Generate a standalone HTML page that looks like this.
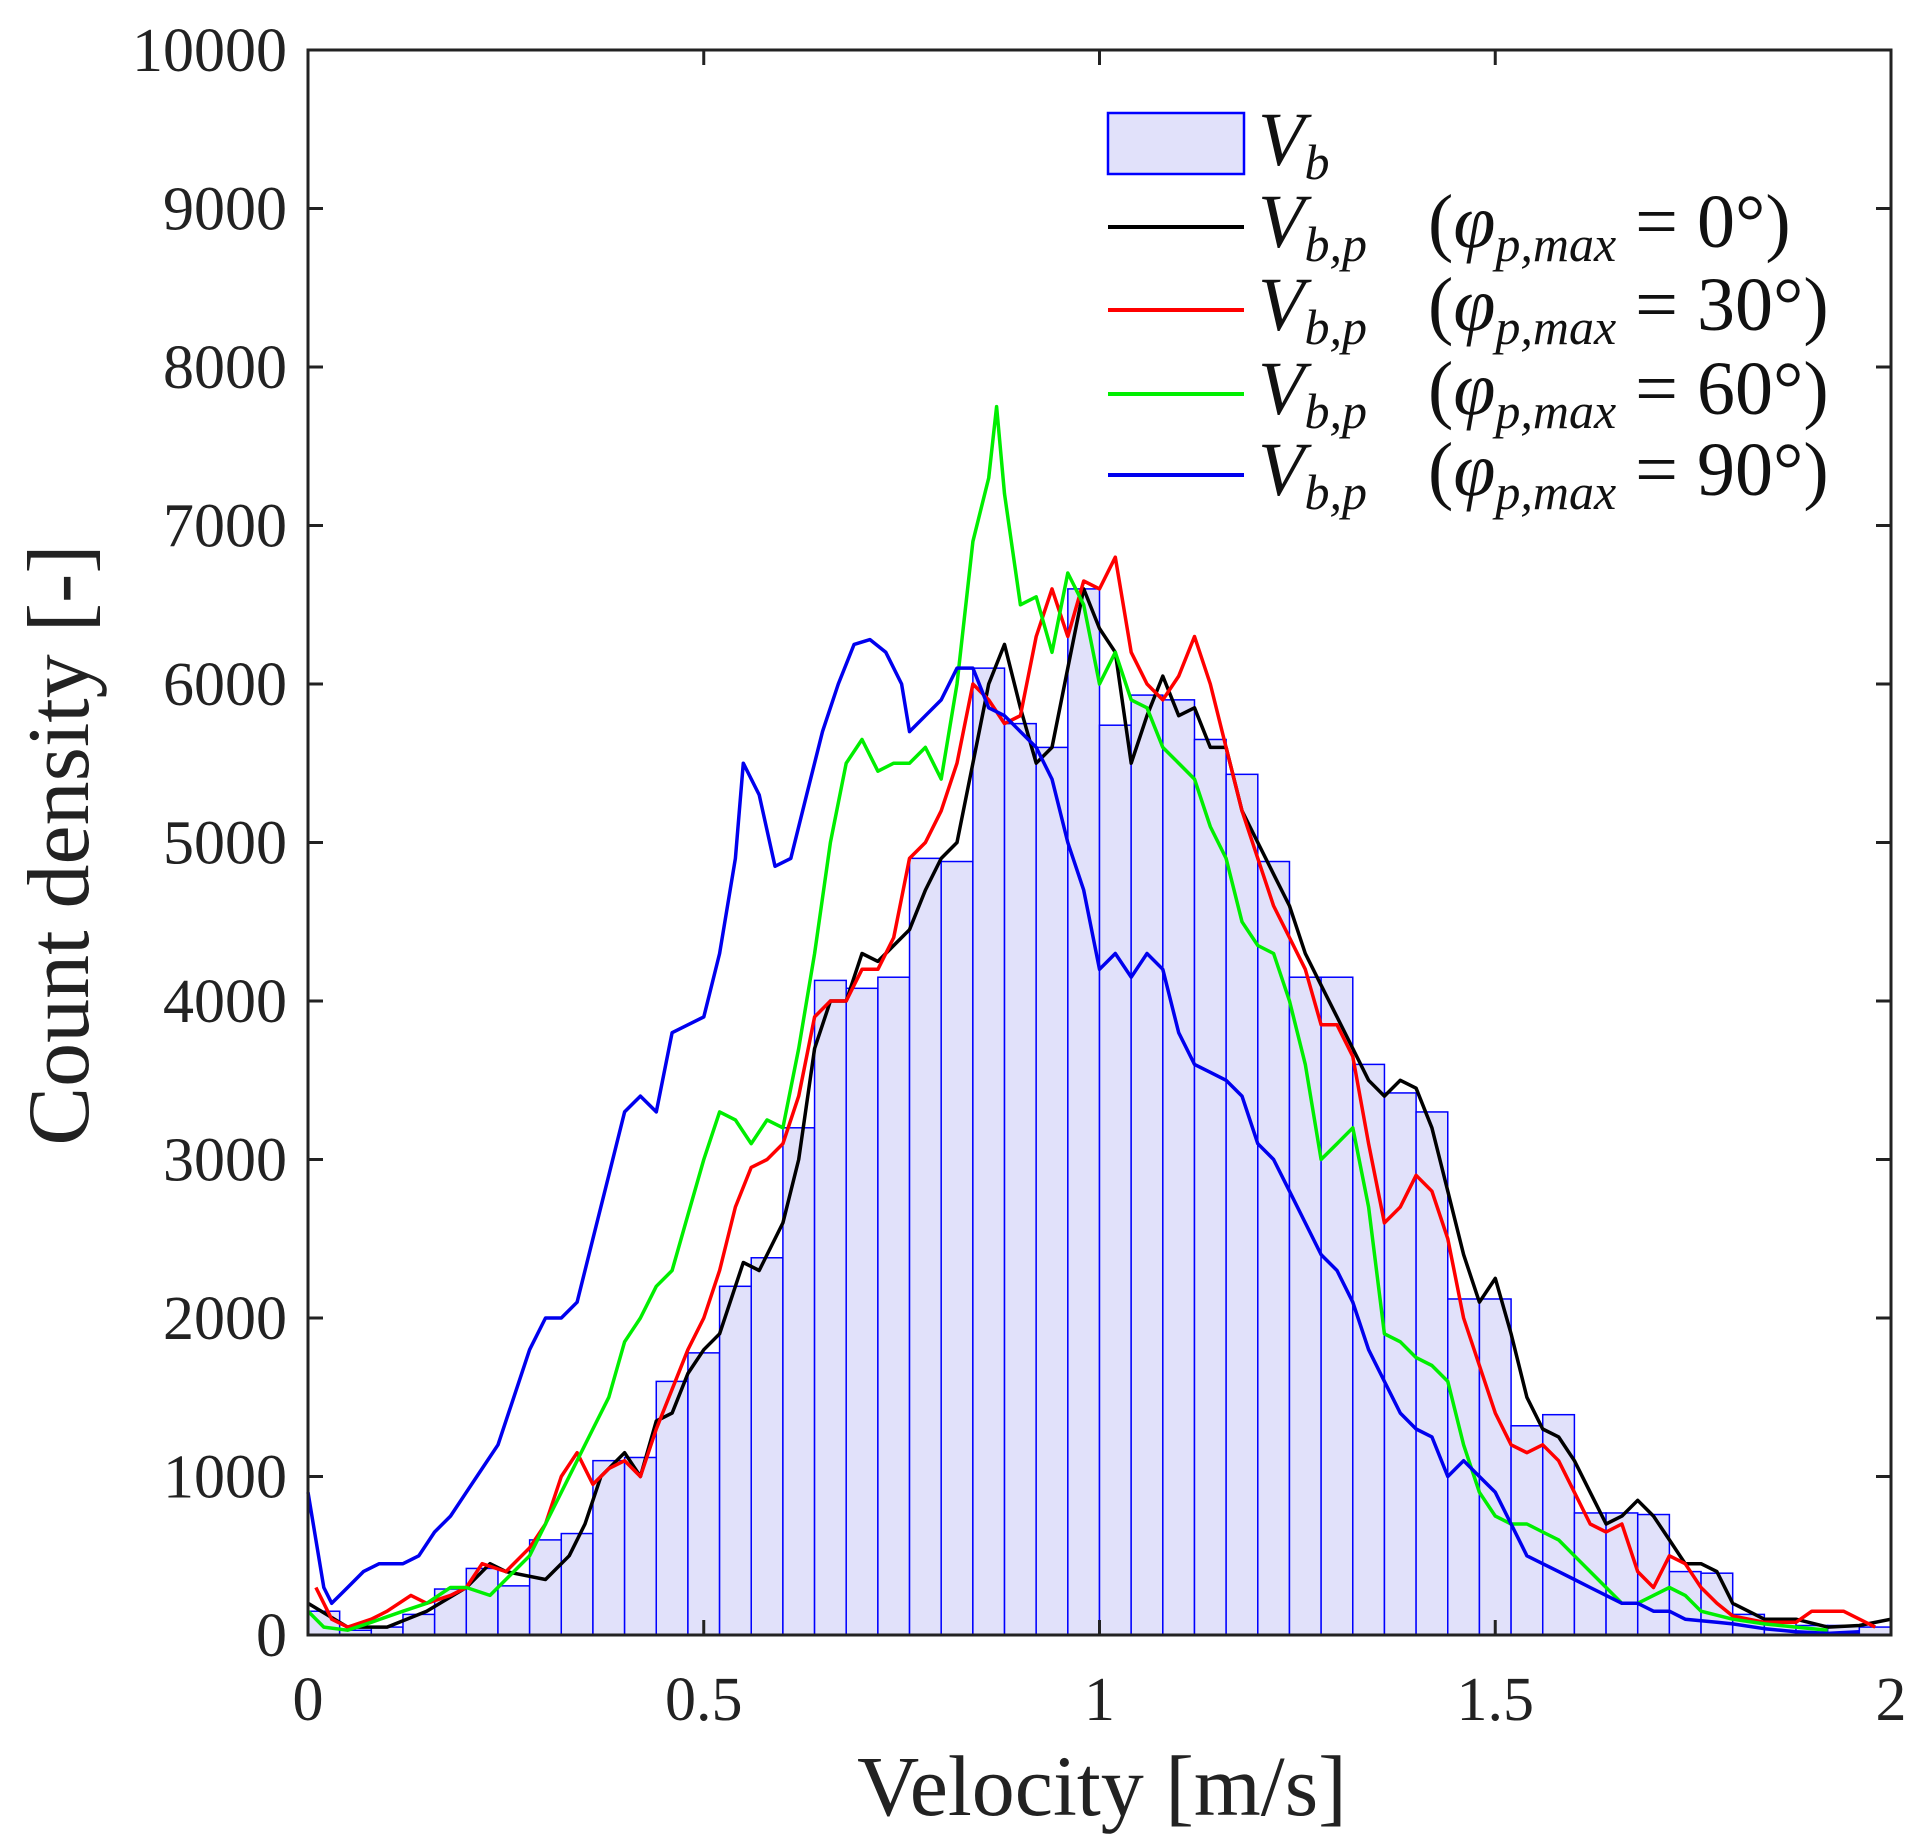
<!DOCTYPE html>
<html><head><meta charset="utf-8"><style>
html,body{margin:0;padding:0;background:#fff;}
svg{display:block;font-family:"Liberation Serif",serif;}
</style></head><body>
<svg id="chart" width="1925" height="1847" viewBox="0 0 1925 1847" xmlns="http://www.w3.org/2000/svg">
<g id="bars"></g>
<g id="lines"></g>
<g id="axes"></g>
<g id="legend"></g>
</svg>
<script>
const binEdgesStart = 0, binWidth = 0.04;
const histCounts = [150,30,50,130,290,420,310,600,640,1100,1120,1600,1780,2200,2380,3200,4130,4080,4150,4900,4880,6100,5750,5600,6600,5740,5930,5900,5650,5430,4880,4150,4150,3600,3420,3300,2120,2120,1320,1390,770,770,760,400,390,130,80,60,60,50];
const blackX=[0,0.05,0.1,0.15,0.2,0.23,0.25,0.3,0.33,0.35,0.37,0.4,0.42,0.44,0.46,0.48,0.5,0.52,0.55,0.57,0.6,0.62,0.64,0.66,0.68,0.7,0.72,0.74,0.76,0.78,0.8,0.82,0.84,0.86,0.88,0.9,0.92,0.94,0.96,0.98,1.0,1.02,1.04,1.06,1.08,1.1,1.12,1.14,1.16,1.18,1.2,1.22,1.24,1.26,1.28,1.3,1.32,1.34,1.36,1.38,1.4,1.42,1.44,1.46,1.48,1.5,1.52,1.54,1.56,1.58,1.6,1.62,1.64,1.66,1.68,1.7,1.72,1.74,1.76,1.78,1.8,1.84,1.88,1.92,1.96,2.0];
const blackY=[200,50,50,150,300,450,400,350,500,700,1000,1150,1000,1350,1400,1650,1800,1900,2350,2300,2600,3000,3700,4000,4000,4300,4250,4350,4450,4700,4900,5000,5500,6000,6250,5850,5500,5600,6100,6600,6350,6200,5500,5800,6050,5800,5850,5600,5600,5200,5000,4800,4600,4300,4100,3900,3700,3500,3400,3500,3450,3200,2800,2400,2100,2250,1900,1500,1300,1250,1100,900,700,750,850,750,600,450,450,400,200,100,100,50,60,100];
const redX=[0.01,0.03,0.05,0.08,0.1,0.13,0.15,0.18,0.2,0.22,0.25,0.28,0.3,0.32,0.34,0.36,0.38,0.4,0.42,0.44,0.46,0.48,0.5,0.52,0.54,0.56,0.58,0.6,0.62,0.64,0.66,0.68,0.7,0.72,0.74,0.76,0.78,0.8,0.82,0.84,0.86,0.88,0.9,0.92,0.94,0.96,0.98,1.0,1.02,1.04,1.06,1.08,1.1,1.12,1.14,1.16,1.18,1.2,1.22,1.24,1.26,1.28,1.3,1.32,1.34,1.36,1.38,1.4,1.42,1.44,1.46,1.48,1.5,1.52,1.54,1.56,1.58,1.6,1.62,1.64,1.66,1.68,1.7,1.72,1.74,1.76,1.78,1.8,1.84,1.88,1.9,1.94,1.98];
const redY=[300,100,50,100,150,250,200,250,300,450,400,550,700,1000,1150,950,1050,1100,1000,1300,1550,1800,2000,2300,2700,2950,3000,3100,3400,3900,4000,4000,4200,4200,4400,4900,5000,5200,5500,6000,5900,5750,5800,6300,6600,6300,6650,6600,6800,6200,6000,5900,6050,6300,6000,5600,5200,4900,4600,4400,4200,3850,3850,3650,3100,2600,2700,2900,2800,2500,2000,1700,1400,1200,1150,1200,1100,900,700,650,700,400,300,500,450,300,200,120,80,80,150,150,50];
const greenX=[0,0.02,0.05,0.08,0.12,0.15,0.18,0.2,0.23,0.26,0.28,0.3,0.32,0.34,0.36,0.38,0.4,0.42,0.44,0.46,0.48,0.5,0.52,0.54,0.56,0.58,0.6,0.62,0.64,0.66,0.68,0.7,0.72,0.74,0.76,0.78,0.8,0.82,0.84,0.86,0.87,0.88,0.9,0.92,0.94,0.96,0.98,1.0,1.02,1.04,1.06,1.08,1.1,1.12,1.14,1.16,1.18,1.2,1.22,1.24,1.26,1.28,1.3,1.32,1.34,1.36,1.38,1.4,1.42,1.44,1.46,1.48,1.5,1.52,1.54,1.56,1.58,1.6,1.62,1.64,1.66,1.68,1.7,1.72,1.74,1.76,1.8,1.84,1.88,1.92];
const greenY=[150,50,30,80,150,200,300,300,250,400,500,700,900,1100,1300,1500,1850,2000,2200,2300,2650,3000,3300,3250,3100,3250,3200,3700,4300,5000,5500,5650,5450,5500,5500,5600,5400,6000,6900,7300,7750,7200,6500,6550,6200,6700,6500,6000,6200,5900,5850,5600,5500,5400,5100,4900,4500,4350,4300,4000,3600,3000,3100,3200,2700,1900,1850,1750,1700,1600,1200,900,750,700,700,650,600,500,400,300,200,200,250,300,250,150,100,70,50,30];
const blueX=[0,0.01,0.02,0.03,0.05,0.07,0.09,0.12,0.14,0.16,0.18,0.2,0.22,0.24,0.26,0.28,0.3,0.32,0.34,0.36,0.38,0.4,0.42,0.44,0.46,0.48,0.5,0.52,0.54,0.55,0.57,0.59,0.61,0.63,0.65,0.67,0.69,0.71,0.73,0.75,0.76,0.78,0.8,0.82,0.84,0.86,0.88,0.9,0.92,0.94,0.96,0.98,1.0,1.02,1.04,1.06,1.08,1.1,1.12,1.14,1.16,1.18,1.2,1.22,1.24,1.26,1.28,1.3,1.32,1.34,1.36,1.38,1.4,1.42,1.44,1.46,1.48,1.5,1.52,1.54,1.56,1.58,1.6,1.62,1.64,1.66,1.68,1.7,1.72,1.74,1.78,1.8,1.84,1.88,1.92,1.96];
const blueY=[900,600,300,200,300,400,450,450,500,650,750,900,1050,1200,1500,1800,2000,2000,2100,2500,2900,3300,3400,3300,3800,3850,3900,4300,4900,5500,5300,4850,4900,5300,5700,6000,6250,6280,6200,6000,5700,5800,5900,6100,6100,5850,5800,5700,5600,5400,5000,4700,4200,4300,4150,4300,4200,3800,3600,3550,3500,3400,3100,3000,2800,2600,2400,2300,2100,1800,1600,1400,1300,1250,1000,1100,1000,900,700,500,450,400,350,300,250,200,200,150,150,100,80,70,40,20,10,20];
const xTicks=[0,0.5,1,1.5,2], xTickLabels=["0","0.5","1","1.5","2"];
const yTicks=[0,1000,2000,3000,4000,5000,6000,7000,8000,9000,10000];
const yTickLabels=["0","1000","2000","3000","4000","5000","6000","7000","8000","9000","10000"];

const L=308,R=1891,T=50,B=1635;
const xs=v=>L+(v-0)/(2-0)*(R-L);
const ys=v=>B-(v-0)/(10000-0)*(B-T);
const NS="http://www.w3.org/2000/svg";
function mk(tag,attrs,parent){const e=document.createElementNS(NS,tag);for(const k in attrs)e.setAttribute(k,attrs[k]);parent.appendChild(e);return e;}

const gb=document.getElementById('bars');
histCounts.forEach((c,i)=>{
  const x0=xs(binEdgesStart+i*binWidth), x1=xs(binEdgesStart+(i+1)*binWidth);
  const r=mk('rect',{x:x0,y:ys(c),width:x1-x0,height:B-ys(c),fill:'#e1e1fa',stroke:'#0000ff','stroke-width':1.5},gb);
  
  
});

const gl=document.getElementById('lines');
[[blackX,blackY,'#000000','line-phi-0'],[redX,redY,'#ff0000','line-phi-30'],[greenX,greenY,'#00ee00','line-phi-60'],[blueX,blueY,'#0000ee','line-phi-90']].forEach(([X,Y,col,name])=>{
  const d=X.map((x,i)=>(i?'L':'M')+xs(x).toFixed(1)+','+ys(Y[i]).toFixed(1)).join(' ');
  const p=mk('path',{d:d,fill:'none',stroke:col,'stroke-width':3.5,'stroke-linejoin':'round'},gl);
  
  
});

const ga=document.getElementById('axes');
const frame=mk('rect',{x:L,y:T,width:R-L,height:B-T,fill:'none',stroke:'#222','stroke-width':3},ga);


xTicks.forEach((v,i)=>{
  const x=xs(v);
  mk('line',{x1:x,y1:B,x2:x,y2:B-15,stroke:'#222','stroke-width':3},ga);
  mk('line',{x1:x,y1:T,x2:x,y2:T+15,stroke:'#222','stroke-width':3},ga);
  const t=mk('text',{x:x,y:1720,'text-anchor':'middle','font-size':62,fill:'#222'},ga);
  t.textContent=xTickLabels[i];
  
  
});
yTicks.forEach((v,i)=>{
  const y=ys(v);
  mk('line',{x1:L,y1:y,x2:L+15,y2:y,stroke:'#222','stroke-width':3},ga);
  mk('line',{x1:R,y1:y,x2:R-15,y2:y,stroke:'#222','stroke-width':3},ga);
  const t=mk('text',{x:287,y:y+21,'text-anchor':'end','font-size':62,fill:'#222'},ga);
  t.textContent=yTickLabels[i];
  
  
});
const xt=mk('text',{x:1102,y:1815,'text-anchor':'middle','font-size':86,fill:'#222'},ga);
xt.textContent='Velocity [m/s]';


const yt=mk('text',{x:0,y:0,'text-anchor':'middle','font-size':88,fill:'#222',transform:'translate(88,845) rotate(-90)'},ga);
yt.textContent='Count density [-]';



const lg=document.getElementById('legend');
const patch=mk('rect',{x:1108,y:113,width:136,height:61,fill:'#e1e1fa',stroke:'#0000ff','stroke-width':2.5},lg);


const vb=mk('text',{x:1258,y:165,'font-size':76,'font-style':'italic',fill:'#111'},lg);
vb.innerHTML='V<tspan font-size="50" dy="14">b</tspan>';


const legCols=['#000','#ff0000','#00ee00','#0000ee'], legDeg=['0','30','60','90'], legY=[227,310,394,475];
legY.forEach((y,i)=>{
  const l=mk('line',{x1:1108,y1:y,x2:1244,y2:y,stroke:legCols[i],'stroke-width':4},lg);
  
  
  const t=mk('text',{x:1258,y:y+20,'font-size':76,fill:'#111'},lg);
  t.innerHTML='<tspan font-style="italic">V</tspan><tspan font-size="50" font-style="italic" dy="14">b,p</tspan><tspan x="1428" dy="-14">(</tspan><tspan font-style="italic">φ</tspan><tspan font-size="50" font-style="italic" dy="14">p,max</tspan><tspan dy="-14"> = '+legDeg[i]+'°)</tspan>';
  
  
});
</script>
</body></html>
